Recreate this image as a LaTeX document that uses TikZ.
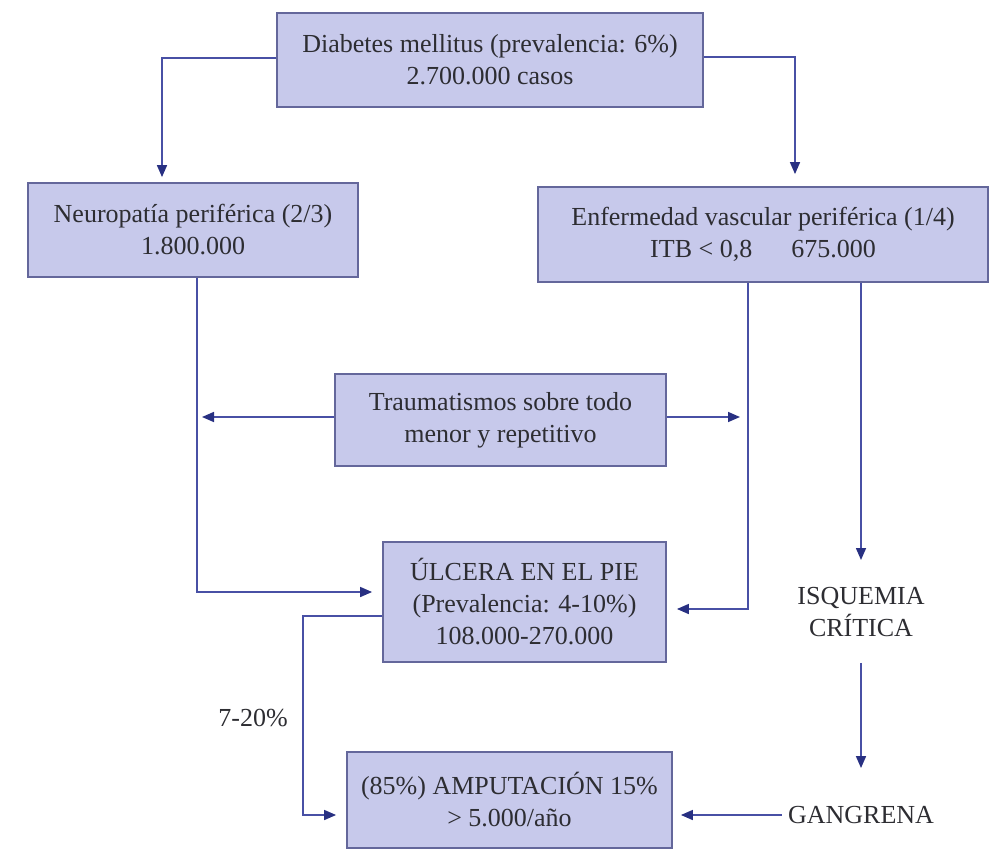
\documentclass[tikz,border=0pt]{standalone}
\usepackage{fontspec}
\setmainfont{Liberation Serif}
\usetikzlibrary{arrows.meta}
\definecolor{boxfill}{RGB}{199,201,235}
\definecolor{boxdraw}{RGB}{100,103,155}
\definecolor{linec}{RGB}{72,80,165}
\definecolor{tipc}{RGB}{40,48,130}
\definecolor{txt}{RGB}{45,45,50}
\begin{document}
\begin{tikzpicture}[x=1pt,y=-1pt,
  box/.style={draw=boxdraw, line width=1.8pt, fill=boxfill, align=center, text=txt,
    font=\fontsize{26}{32}\selectfont, inner sep=0pt},
  lbl/.style={align=center, text=txt, font=\fontsize{26}{32}\selectfont, inner sep=0pt},
  conn/.style={draw=linec, line width=1.6pt, -{Triangle[length=12pt,width=10pt,color=tipc]}}
]
\useasboundingbox (0,0) rectangle (990,859);

\node[box, minimum width=426pt, minimum height=94pt] (diab) at (490,60)
  {Diabetes mellitus (prevalencia: 6\%)\\2.700.000 casos};
\node[box, minimum width=330pt, minimum height=94pt] (neuro) at (193,230)
  {Neuropatía periférica (2/3)\\1.800.000};
\node[box, minimum width=450pt, minimum height=95pt] (enf) at (763,234.5)
  {Enfermedad vascular periférica (1/4)\\ITB < 0,8\quad\enspace 675.000};
\node[box, minimum width=331pt, minimum height=92pt] (trau) at (500.5,420)
  {Traumatismos sobre todo\\menor y repetitivo};
\node[box, minimum width=283pt, minimum height=120pt] (ulc) at (524.5,602)
  {ÚLCERA EN EL PIE\\(Prevalencia: 4-10\%)\\108.000-270.000};
\node[box, minimum width=325pt, minimum height=96pt] (amp) at (509.5,800)
  {(85\%) AMPUTACIÓN 15\%\\> 5.000/año};
\node[lbl] (isq) at (861,612) {ISQUEMIA\\CRÍTICA};
\node[lbl] (gang) at (861,815) {GANGRENA};
\node[lbl] (pct) at (253,718) {7-20\%};

\coordinate (c1) at (162,58);
\coordinate (c2) at (795,57);
\coordinate (c3) at (197,592);
\coordinate (c4) at (748,609);
\coordinate (c5) at (861,560);
\coordinate (c6) at (500,417);
\coordinate (c7) at (303,616);
\coordinate (c8) at (303,815);

\draw[conn, shorten >=5pt] (diab.west |- c1) -| (c1 |- neuro.north);
\draw[conn, shorten >=12pt] (diab.east |- c2) -| (c2 |- enf.north);
\draw[conn, shorten >=10pt] (c3 |- neuro.south) |- (ulc.west |- c3);
\draw[conn, shorten >=10pt] (c4 |- enf.south) |- (ulc.east |- c4);
\draw[conn] (c5 |- enf.south) -- (c5);
\draw[conn, shorten >=5pt] (trau.west |- c6) -- (c3 |- c6);
\draw[conn, shorten >=8pt] (trau.east |- c6) -- (c4 |- c6);
\draw[conn, shorten >=10pt] (ulc.west |- c7) -- (c7) -- (c8) -- (amp.west |- c8);
\draw[conn, shorten <=26pt, shorten >=38pt] (isq.south) -- (gang.north);
\draw[conn, shorten <=6pt, shorten >=8pt] (gang.west) -- (amp.east |- gang.west);
\end{tikzpicture}
\end{document}
